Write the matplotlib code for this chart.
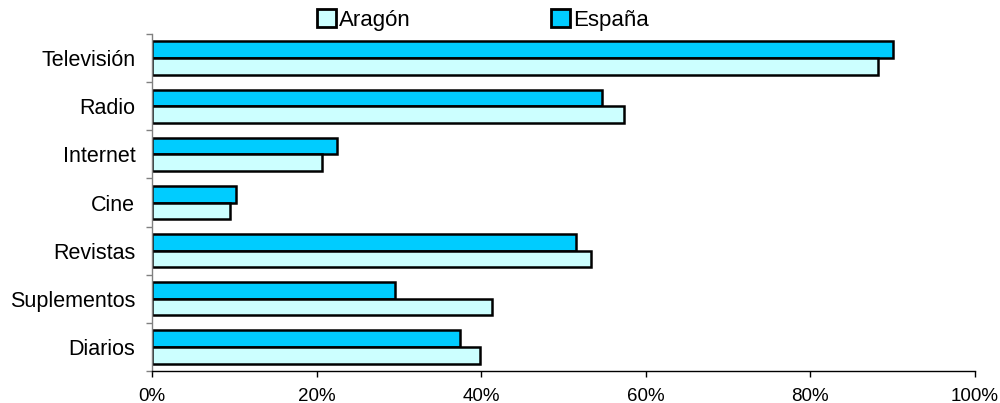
import numpy as np
import matplotlib
matplotlib.use('Agg')
import matplotlib.pyplot as plt
from matplotlib.patches import Patch
from matplotlib.ticker import FixedLocator, FuncFormatter

plt.rcParams['font.family'] = ['Liberation Sans', 'DejaVu Sans']

# categories listed bottom -> top
categories = ['Diarios', 'Suplementos', 'Revistas', 'Cine', 'Internet', 'Radio', 'Televisión']
espana = [37.4, 29.5, 51.5, 10.2, 22.5, 54.7, 90.0]
aragon = [39.9, 41.3, 53.3, 9.5, 20.6, 57.3, 88.2]
xticks = [0, 20, 40, 60, 80, 100]

c_esp = '#00CCFF'
c_ara = '#CCFFFF'

fig = plt.figure(figsize=(10, 4.03), dpi=100)
ax = fig.add_axes([0.152, 0.0794, 0.823, 0.8362])

y = np.arange(len(categories))
h = 0.345
ax.barh(y + h / 2, espana, height=h, color=c_esp, edgecolor='black', linewidth=1.8)
ax.barh(y - h / 2, aragon, height=h, color=c_ara, edgecolor='black', linewidth=1.8)

ax.set_xlim(0, 100)
ax.set_ylim(-0.5, len(categories) - 0.5)

ax.set_xticks(xticks)
ax.xaxis.set_major_formatter(FuncFormatter(lambda v, p: f'{v:.0f}%'))
ax.tick_params(axis='x', direction='out', length=4, width=1, labelsize=13.5, pad=8)

ax.set_yticks(y)
ax.set_yticklabels(categories)
ax.tick_params(axis='y', which='major', length=0, labelsize=15.5, pad=12)
ax.yaxis.set_minor_locator(FixedLocator(np.arange(-0.5, len(categories), 1.0)))
ax.tick_params(axis='y', which='minor', length=4, width=1, color='#808080', direction='out')

for s in ['top', 'right']:
    ax.spines[s].set_visible(False)
ax.spines['left'].set_color('#808080')
ax.spines['left'].set_linewidth(1)
ax.spines['bottom'].set_color('black')
ax.spines['bottom'].set_linewidth(1)

handles = [Patch(facecolor=c_ara, edgecolor='black', linewidth=2, label='Aragón'),
           Patch(facecolor=c_esp, edgecolor='black', linewidth=2, label='España')]
fig.legend(handles=handles, loc='center', bbox_to_anchor=(0.483, 0.95), ncol=2,
           frameon=False, fontsize=16, handlelength=0.85, handleheight=0.85,
           handletextpad=0.15, columnspacing=6.3, borderpad=0)

fig.savefig('out.png', dpi=100)
